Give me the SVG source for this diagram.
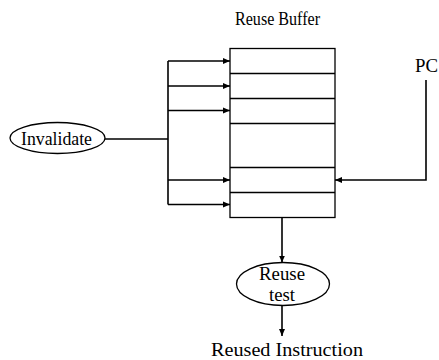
<svg xmlns="http://www.w3.org/2000/svg" width="439" height="360" viewBox="0 0 439 360">
  <style>
    text { font-family: "Liberation Serif", "DejaVu Serif", serif; font-size: 18px; fill: #000; }
    .ln { stroke: #000; stroke-width: 1.6; fill: none; }
    .node { stroke: #000; stroke-width: 1.3; fill: #fff; }
  </style>
  <defs>
    <marker id="arr" markerWidth="8" markerHeight="8" refX="7" refY="4" orient="auto" markerUnits="userSpaceOnUse">
      <path d="M0,1 L7,4 L0,7 Z" fill="#000"/>
    </marker>
  </defs>

  <!-- Reuse buffer with its entries -->
  <g id="reuse-buffer">
    <text x="235" y="25" textLength="85" lengthAdjust="spacingAndGlyphs">Reuse Buffer</text>
    <rect class="node" x="230" y="48.5" width="105" height="169"/>
    <line class="ln" x1="230" y1="73.5" x2="335" y2="73.5"/>
    <line class="ln" x1="230" y1="98.5" x2="335" y2="98.5"/>
    <line class="ln" x1="230" y1="123.5" x2="335" y2="123.5"/>
    <line class="ln" x1="230" y1="167.5" x2="335" y2="167.5"/>
    <line class="ln" x1="230" y1="192.5" x2="335" y2="192.5"/>
  </g>

  <g id="invalidate">
    <ellipse class="node" cx="57.5" cy="138" rx="47.5" ry="15.5"/>
    <text x="21" y="145" textLength="71" lengthAdjust="spacingAndGlyphs">Invalidate</text>
  </g>

  <g id="pc">
    <text x="415" y="72" textLength="23" lengthAdjust="spacingAndGlyphs">PC</text>
  </g>

  <g id="reuse-test">
    <ellipse class="node" cx="283" cy="284" rx="46.5" ry="21.5"/>
    <text x="259" y="280" textLength="46" lengthAdjust="spacingAndGlyphs">Reuse</text>
    <text x="269" y="301" textLength="26" lengthAdjust="spacingAndGlyphs">test</text>
  </g>

  <g id="reused-instruction">
    <text x="211" y="356" textLength="152" lengthAdjust="spacingAndGlyphs">Reused Instruction</text>
  </g>

  <!-- Connectors -->
  <g id="connectors">
    <line class="ln" x1="105" y1="139" x2="168" y2="139"/>
    <line class="ln" x1="168" y1="61" x2="168" y2="204.5"/>
    <line class="ln" x1="168" y1="61" x2="230" y2="61" marker-end="url(#arr)"/>
    <line class="ln" x1="168" y1="86" x2="230" y2="86" marker-end="url(#arr)"/>
    <line class="ln" x1="168" y1="110.5" x2="230" y2="110.5" marker-end="url(#arr)"/>
    <line class="ln" x1="168" y1="180" x2="230" y2="180" marker-end="url(#arr)"/>
    <line class="ln" x1="168" y1="204.5" x2="230" y2="204.5" marker-end="url(#arr)"/>
    <polyline class="ln" points="426,80 426,180 335,180" marker-end="url(#arr)"/>
    <line class="ln" x1="282" y1="217.5" x2="282" y2="262.5" marker-end="url(#arr)"/>
    <line class="ln" x1="282" y1="305.5" x2="282" y2="336" marker-end="url(#arr)"/>
  </g>
</svg>
